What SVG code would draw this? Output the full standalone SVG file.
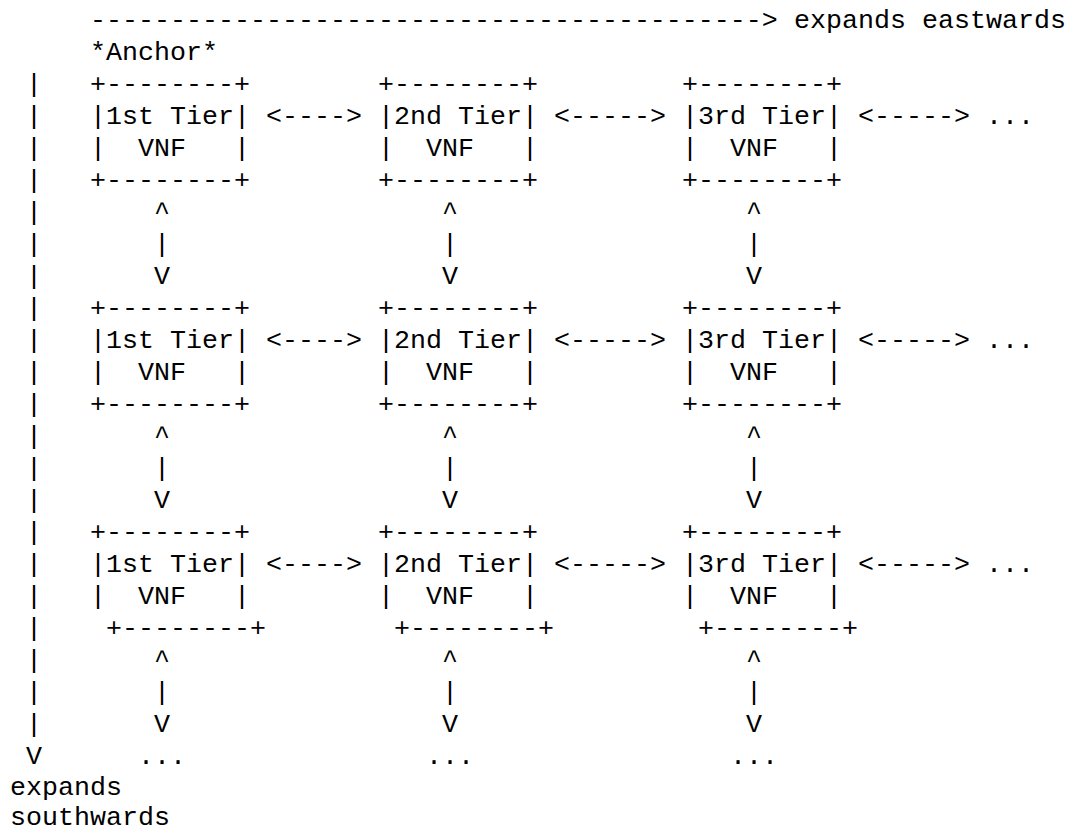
<svg xmlns="http://www.w3.org/2000/svg" width="1071" height="831" viewBox="0 0 1071 831">
<style>
text{font-family:"Liberation Mono","Courier New",monospace;font-size:26.67px;fill:#000;white-space:pre}
</style>
<rect width="1071" height="831" fill="#fff"/>
<g id="labels">
<text x="794" y="28">expands eastwards</text>
<text x="90" y="60">*Anchor*</text>
<text x="10" y="795">expands</text>
<text x="10" y="825">southwards</text>
</g>
<g id="connectors">
<text x="90" y="28">------------------------------------------&gt;</text>
<g id="south-axis">
<text x="26" y="92">|</text><text x="26" y="124">|</text><text x="26" y="156">|</text><text x="26" y="188">|</text><text x="26" y="220">|</text><text x="26" y="252">|</text><text x="26" y="284">|</text>
<text x="26" y="316">|</text><text x="26" y="348">|</text><text x="26" y="380">|</text><text x="26" y="412">|</text><text x="26" y="444">|</text><text x="26" y="476">|</text><text x="26" y="508">|</text>
<text x="26" y="540">|</text><text x="26" y="572">|</text><text x="26" y="604">|</text><text x="26" y="636">|</text><text x="26" y="668">|</text><text x="26" y="700">|</text><text x="26" y="732">|</text>
<text x="26" y="764">V</text>
</g>
<g id="east-links">
<text x="266" y="124">&lt;----&gt;</text><text x="554" y="124">&lt;-----&gt;</text><text x="858" y="124">&lt;-----&gt;</text><text x="986" y="124">...</text>
<text x="266" y="348">&lt;----&gt;</text><text x="554" y="348">&lt;-----&gt;</text><text x="858" y="348">&lt;-----&gt;</text><text x="986" y="348">...</text>
<text x="266" y="572">&lt;----&gt;</text><text x="554" y="572">&lt;-----&gt;</text><text x="858" y="572">&lt;-----&gt;</text><text x="986" y="572">...</text>
</g>
<g id="south-links">
<text x="154" y="220">^</text><text x="154" y="252">|</text><text x="154" y="284">V</text>
<text x="442" y="220">^</text><text x="442" y="252">|</text><text x="442" y="284">V</text>
<text x="746" y="220">^</text><text x="746" y="252">|</text><text x="746" y="284">V</text>
<text x="154" y="444">^</text><text x="154" y="476">|</text><text x="154" y="508">V</text>
<text x="442" y="444">^</text><text x="442" y="476">|</text><text x="442" y="508">V</text>
<text x="746" y="444">^</text><text x="746" y="476">|</text><text x="746" y="508">V</text>
<text x="154" y="668">^</text><text x="154" y="700">|</text><text x="154" y="732">V</text>
<text x="442" y="668">^</text><text x="442" y="700">|</text><text x="442" y="732">V</text>
<text x="746" y="668">^</text><text x="746" y="700">|</text><text x="746" y="732">V</text>
<text x="138" y="764">...</text><text x="426" y="764">...</text><text x="730" y="764">...</text>
</g>
</g>
<g id="r1-tier1"><text x="90" y="92">+--------+</text><text x="90" y="124">|1st Tier|</text><text x="90" y="156">|</text><text x="138" y="156">VNF</text><text x="234" y="156">|</text><text x="90" y="188">+--------+</text></g>
<g id="r1-tier2"><text x="378" y="92">+--------+</text><text x="378" y="124">|2nd Tier|</text><text x="378" y="156">|</text><text x="426" y="156">VNF</text><text x="522" y="156">|</text><text x="378" y="188">+--------+</text></g>
<g id="r1-tier3"><text x="682" y="92">+--------+</text><text x="682" y="124">|3rd Tier|</text><text x="682" y="156">|</text><text x="730" y="156">VNF</text><text x="826" y="156">|</text><text x="682" y="188">+--------+</text></g>
<g id="r2-tier1"><text x="90" y="316">+--------+</text><text x="90" y="348">|1st Tier|</text><text x="90" y="380">|</text><text x="138" y="380">VNF</text><text x="234" y="380">|</text><text x="90" y="412">+--------+</text></g>
<g id="r2-tier2"><text x="378" y="316">+--------+</text><text x="378" y="348">|2nd Tier|</text><text x="378" y="380">|</text><text x="426" y="380">VNF</text><text x="522" y="380">|</text><text x="378" y="412">+--------+</text></g>
<g id="r2-tier3"><text x="682" y="316">+--------+</text><text x="682" y="348">|3rd Tier|</text><text x="682" y="380">|</text><text x="730" y="380">VNF</text><text x="826" y="380">|</text><text x="682" y="412">+--------+</text></g>
<g id="r3-tier1"><text x="90" y="540">+--------+</text><text x="90" y="572">|1st Tier|</text><text x="90" y="604">|</text><text x="138" y="604">VNF</text><text x="234" y="604">|</text><text x="106" y="636">+--------+</text></g>
<g id="r3-tier2"><text x="378" y="540">+--------+</text><text x="378" y="572">|2nd Tier|</text><text x="378" y="604">|</text><text x="426" y="604">VNF</text><text x="522" y="604">|</text><text x="394" y="636">+--------+</text></g>
<g id="r3-tier3"><text x="682" y="540">+--------+</text><text x="682" y="572">|3rd Tier|</text><text x="682" y="604">|</text><text x="730" y="604">VNF</text><text x="826" y="604">|</text><text x="698" y="636">+--------+</text></g>
</svg>
